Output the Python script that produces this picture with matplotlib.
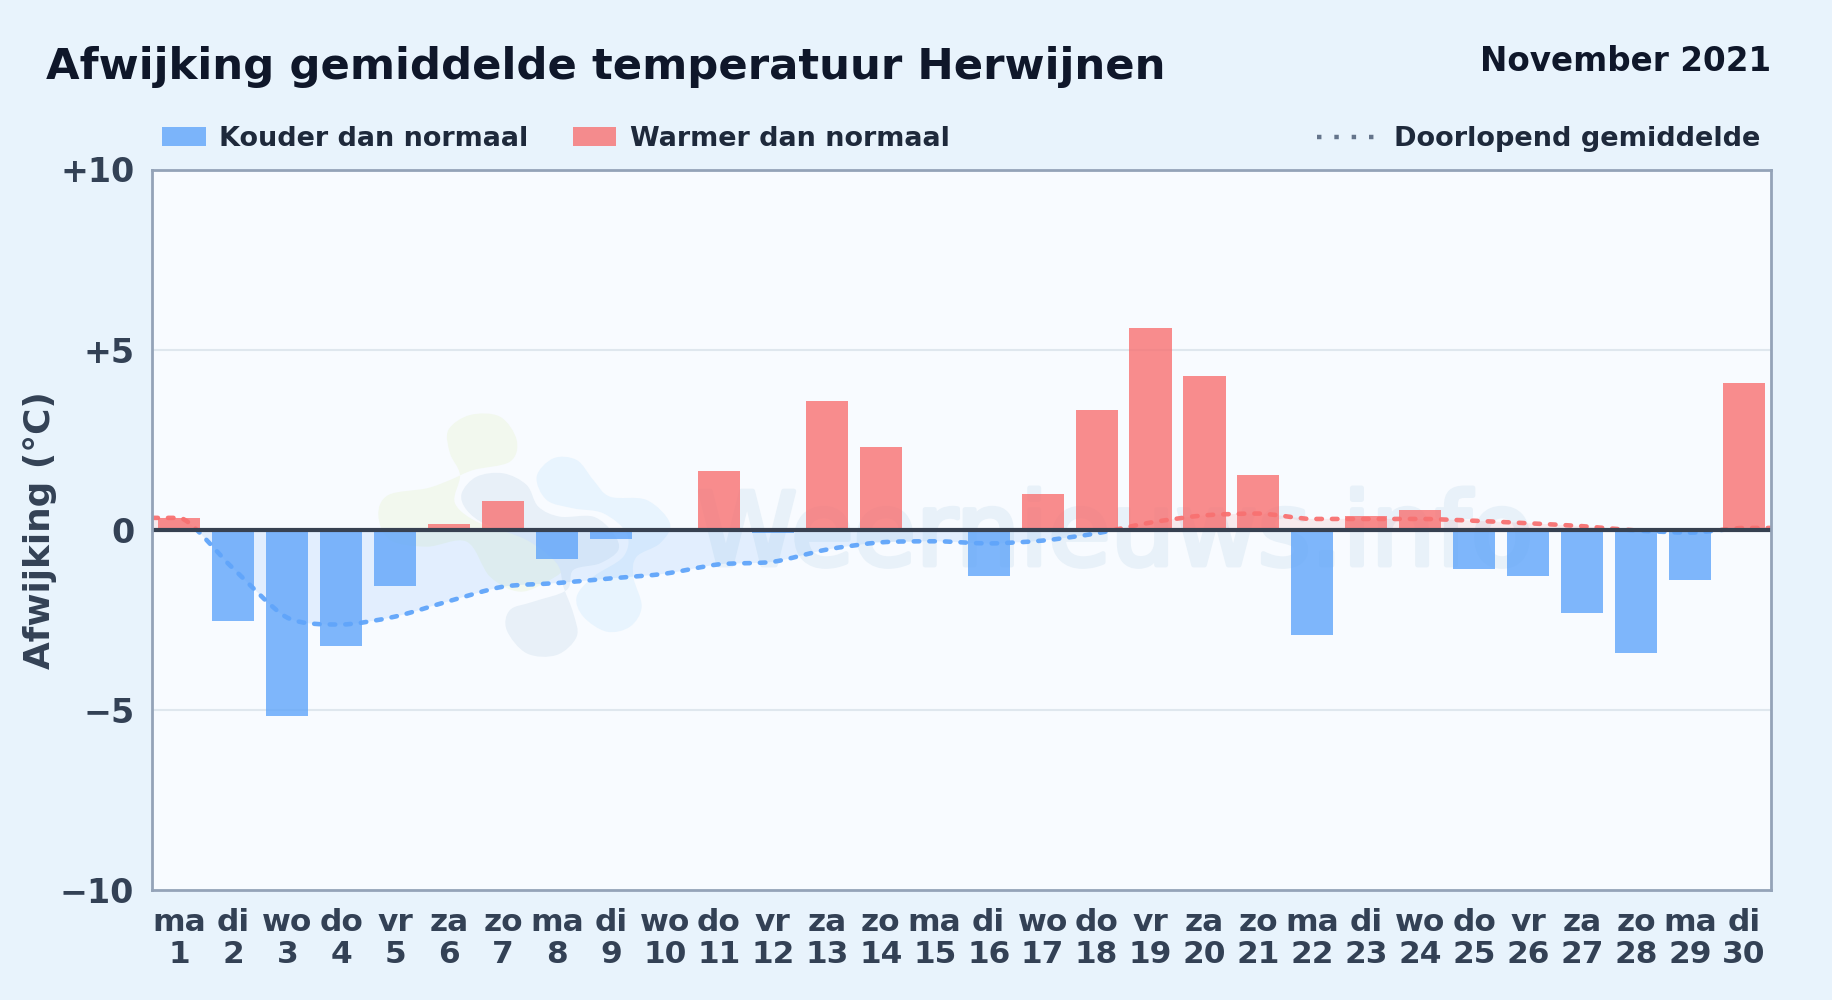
import numpy as np
import matplotlib
matplotlib.use("Agg")
import matplotlib.pyplot as plt
import matplotlib.patheffects as pe
from matplotlib.path import Path
from matplotlib.patches import PathPatch, Rectangle
from matplotlib.transforms import Affine2D
from matplotlib.lines import Line2D

TITLE = "Afwijking gemiddelde temperatuur Herwijnen"
PERIOD = "November 2021"
WATERMARK = "Weernieuws.info"
weekdays = ["ma", "di", "wo", "do", "vr", "za", "zo", "ma", "di", "wo", "do", "vr", "za", "zo", "ma",
            "di", "wo", "do", "vr", "za", "zo", "ma", "di", "wo", "do", "vr", "za", "zo", "ma", "di"]
days = list(range(1, 31))
deviation = [0.33, -2.53, -5.18, -3.23, -1.56, 0.15, 0.8, -0.8, -0.26, 0.0,
             1.63, -0.1, 3.57, 2.31, 0.0, -1.27, 0.98, 3.33, 5.6, 4.26,
             1.52, -2.93, 0.38, 0.55, -1.09, -1.27, -2.32, -3.43, -1.4, 4.06]
running_mean = [0.33, -1.08, -2.44, -2.63, -2.41, -1.98, -1.58, -1.48, -1.35, -1.22,
                -0.96, -0.89, -0.55, -0.35, -0.32, -0.38, -0.30, -0.10, 0.20, 0.40,
                0.45, 0.30, 0.30, 0.30, 0.25, 0.18, 0.10, -0.02, -0.08, 0.05]
y_ticks = [-10, -5, 0, 5, 10]
y_tick_labels = ["\u221210", "\u22125", "0", "+5", "+10"]

BG = "#e8f3fc"; PLOT = "#f8fbff"; BLUE = "#60a5fa"; RED = "#f87171"
DARK = "#0f172a"; MID = "#1e293b"; TICK = "#334155"; EDGE = "#94a3b8"

plt.rcParams["font.family"] = ["DejaVu Sans"]
W, H = 1832, 1000
fig = plt.figure(figsize=(W / 100, H / 100), dpi=100, facecolor=BG)
px = Affine2D().scale(1, -1).translate(0, H)   # layout helper: top-left pixel coordinates

L, R, T, B = 152.4, 1771, 169.5, 890
ax = fig.add_axes([L / W, 1 - B / H, (R - L) / W, (B - T) / H], facecolor=PLOT)
ax.set_xlim(0.5, 30.5)
ax.set_ylim(-10, 10)


def smooth_path(x, y, close_to_zero=False):
    p = np.column_stack([x, y])
    prev = np.vstack([p[0], p[:-1]])
    nxt = np.vstack([p[1:], p[-1]])
    tang = (nxt - prev) / 6 * 0.8
    flat = (p[:, 1] - prev[:, 1]) * (nxt[:, 1] - p[:, 1]) <= 0
    tang[flat, 1] = 0
    verts = [p[0]]
    codes = [Path.MOVETO]
    for i in range(len(p) - 1):
        verts += [p[i] + tang[i], p[i + 1] - tang[i + 1], p[i + 1]]
        codes += [Path.CURVE4] * 3
    if close_to_zero:
        verts += [(x[-1], 0), (x[0], 0), p[0]]
        codes += [Path.LINETO, Path.LINETO, Path.CLOSEPOLY]
    return Path(np.array(verts), codes)


def blob(points, color, alpha=1.0):
    # decorative logo watermark, in pixels of the logo crop
    q = np.array(points, float) / 3 + [360, 400]
    n = len(q)
    verts = [q[0]]
    codes = [Path.MOVETO]
    for i in range(n):
        a, b, c, d = q[i - 1], q[i], q[(i + 1) % n], q[(i + 2) % n]
        verts += [b + (c - a) / 6, c - (d - b) / 6, c]
        codes += [Path.CURVE4] * 3
    ax.add_patch(PathPatch(Path(np.array(verts), codes), transform=px, fc=color, ec="none",
                           alpha=alpha, zorder=0.6))


blob([(265, 90), (330, 45), (420, 50), (470, 120), (450, 185), (340, 210), (270, 240), (200, 265),
      (85, 285), (55, 345), (90, 420), (200, 440), (320, 425), (390, 530), (480, 575), (570, 540),
      (610, 500), (560, 440), (470, 400), (360, 370), (285, 310), (300, 225), (270, 160)], "#f2f8ee")
blob([(305, 280), (350, 230), (430, 220), (500, 255), (535, 320), (600, 350), (700, 350), (760, 400),
      (775, 450), (720, 490), (640, 510), (620, 570), (520, 605), (450, 630), (440, 690), (500, 760),
      (590, 765), (650, 710), (640, 640), (610, 560), (590, 490), (500, 420), (380, 375), (320, 330)], "#e8f0f8")
blob([(530, 230), (580, 175), (650, 180), (700, 240), (750, 290), (860, 300), (930, 370), (900, 430),
      (830, 470), (820, 530), (845, 620), (810, 680), (740, 695), (670, 650), (650, 590), (700, 530),
      (790, 470), (800, 400), (730, 340), (640, 325), (560, 300)], "#e8f4fe")

ax.text(1115, 565, WATERMARK, transform=px, ha="center", va="baseline", fontsize=73, color="#e8f1f9",
        zorder=0.7, path_effects=[pe.withStroke(linewidth=3.5, foreground="#e8f1f9")])

for y in (-5, 5):
    ax.axhline(y, color="#dfe7ee", lw=1.5, zorder=0.5)

x_line = [0.5] + days + [30.5]
y_line = [running_mean[0]] + running_mean + [running_mean[-1]]
above = Rectangle((0.5, 0), 30, 10, transform=ax.transData)
below = Rectangle((0.5, -10), 30, 10, transform=ax.transData)

for color, clip, alpha in ((BLUE, below, 0.14), (RED, above, 0.12)):
    area = PathPatch(smooth_path(x_line, y_line, True), fc=color, ec="none", alpha=alpha, zorder=1)
    ax.add_patch(area)
    area.set_clip_path(clip)

colors = [BLUE if v < 0 else RED for v in deviation]
ax.bar(days, deviation, width=0.78, color=colors, alpha=0.8, linewidth=0, zorder=2)

for color, clip in ((BLUE, below), (RED, above)):
    curve = PathPatch(smooth_path(x_line, y_line), fc="none", ec=color, lw=3.3, alpha=0.95,
                      linestyle=(0, (1.2, 2.2)), capstyle="round", zorder=3)
    ax.add_patch(curve)
    curve.set_clip_path(clip)

ax.axhline(0, color="#374151", lw=3.0, zorder=4)

ax.set_yticks(y_ticks, y_tick_labels, fontsize=24, fontweight="bold", color=TICK)
ax.set_xticks(days, [f"{w}\n{d}" for w, d in zip(weekdays, days)], fontsize=22.5, fontweight="bold",
              color=TICK, linespacing=1.12)
ax.tick_params(axis="both", length=0)
ax.tick_params(axis="y", pad=13)
ax.tick_params(axis="x", pad=13)
for s in ax.spines.values():
    s.set_color(EDGE)
    s.set_linewidth(2.0)
    s.set_zorder(5)

fig.text(40 / W, 1 - 530 / H, "Afwijking (\u00b0C)", rotation=90, ha="center", va="center", fontsize=25.8,
         fontweight="bold", color=TICK)
fig.text(46 / W, 1 - 79 / H, TITLE, ha="left", va="baseline", fontsize=31.2, fontweight="bold", color=DARK)
fig.text(1771 / W, 1 - 71 / H, PERIOD, ha="right", va="baseline", fontsize=23.5, fontweight="bold", color=DARK)

for x0, x1, color, tx, label in ((162, 206, BLUE, 219, "Kouder dan normaal"),
                                 (573, 616, RED, 630, "Warmer dan normaal")):
    fig.add_artist(Rectangle((x0, 127), x1 - x0, 19, transform=px, fc=color, alpha=0.8, ec="none"))
    fig.text(tx / W, 1 - 146 / H, label, ha="left", va="baseline", fontsize=19.45, fontweight="bold", color=MID)
fig.add_artist(Line2D([1317, 1375], [137, 137], transform=px, color="#64748b", lw=3.2,
                      linestyle=(0, (1, 2.9))))
fig.text(1760 / W, 1 - 146 / H, "Doorlopend gemiddelde", ha="right", va="baseline", fontsize=19.5,
         fontweight="bold", color=MID)

fig.savefig("out.png", dpi=100, facecolor=BG)
